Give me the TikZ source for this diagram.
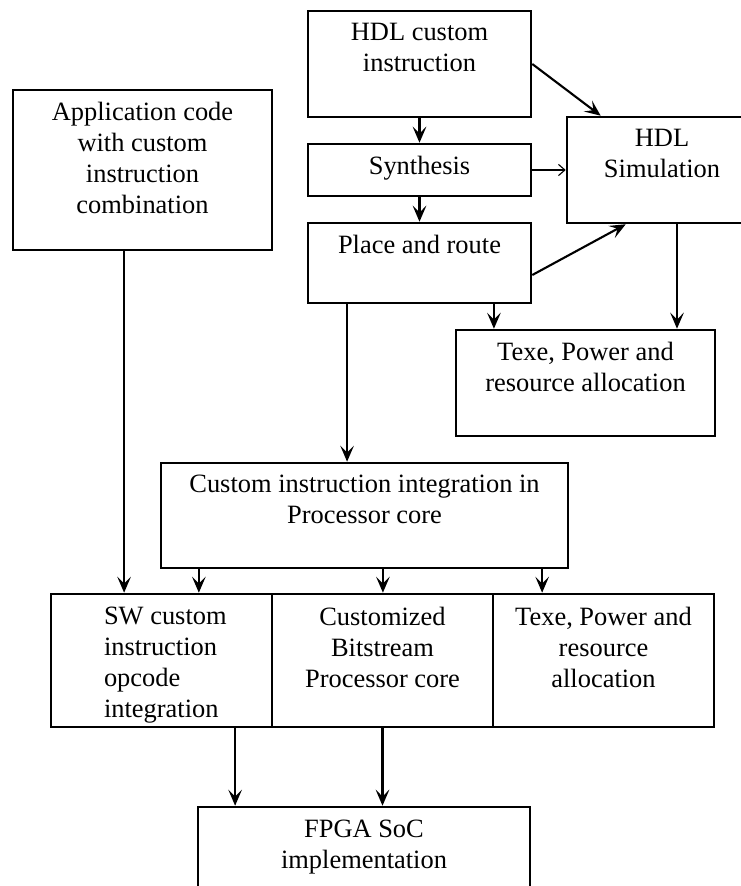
\documentclass[tikz,border=0pt]{standalone}
\usepackage{fontspec}
\setmainfont{Liberation Serif}
\usetikzlibrary{positioning,arrows.meta}

\tikzset{
  blk/.style={draw, line width=1.8pt, inner sep=0pt},
  txt/.style={align=center, inner sep=0pt, font=\fontsize{18.8}{22}\selectfont},
  arr/.style={line width=1.5pt, -{Stealth[length=4mm,width=3.4mm,inset=1.7mm]}},
  thinarr/.style={line width=0.8pt, -{Straight Barb[length=1.6mm,width=2.8mm]}}
}

\begin{document}
\begin{tikzpicture}[x=0.025cm,y=-0.025cm]%,>=latex]

\useasboundingbox (0,0) rectangle (741,886);
\clip (0,0) rectangle (741,886);

\node[blk, minimum width=5.575cm, minimum height=2.65cm] (hdl) at (419.5,64) {};
\node[blk, minimum width=6.475cm, minimum height=4cm] (app) at (142.5,170) {};
\node[blk, minimum width=5.575cm, minimum height=1.3cm] (synth) at (419.5,170) {};
\node[blk, minimum width=4.75cm, minimum height=2.65cm] (sim) at (662,170) {};
\node[blk, minimum width=5.575cm, minimum height=2cm] (pnr) at (419.5,263) {};
\node[blk, minimum width=6.475cm, minimum height=2.65cm] (texeA) at (585.5,383) {};
\node[blk, minimum width=10.175cm, minimum height=2.625cm] (cii) at (364.5,515.5) {};
\node[blk, minimum width=5.525cm, minimum height=3.325cm] (sw) at (161.5,660.5) {};
\node[blk, minimum width=5.525cm, minimum height=3.325cm] (cbp) at (382.5,660.5) {};
\node[blk, minimum width=5.525cm, minimum height=3.325cm] (texeB) at (603.5,660.5) {};
\node[blk, minimum width=8.3cm, minimum height=2.625cm] (fpga) at (364,859.5) {};

\node[txt, below=0.33cm of hdl.north] (hdlt) {HDL custom\\instruction};
\node[txt, below=0.33cm of app.north] (appt) {Application code\\with custom\\instruction\\combination};
\node[txt, below=0.33cm of synth.north] (syntht) {Synthesis};
\node[txt, below=0.33cm of sim.north] (simt) {HDL\\Simulation};
\node[txt, below=0.33cm of pnr.north] (pnrt) {Place and route};
\node[txt, below=0.33cm of texeA.north] (texeAt) {Texe, Power and\\resource allocation};
\node[txt, below=0.33cm of cii.north] (ciit) {Custom instruction integration in\\Processor core};
\node[txt, align=left, below right=0.36cm and 1.35cm of sw.north west] (swt) {SW custom\\instruction\\opcode\\integration};
\node[txt, below=0.36cm of cbp.north] (cbpt) {Customized\\Bitstream\\Processor core};
\node[txt, below=0.36cm of texeB.north] (texeBt) {Texe, Power and\\resource\\allocation};
\node[txt, below=0.36cm of fpga.north] (fpgat) {FPGA SoC\\implementation};

\draw[arr] (hdl) -- (synth);
\draw[arr] (synth) -- (pnr);
\draw[thinarr] (synth) -- (sim);
\draw[arr] (hdl.east) -- ([xshift=0.875cm]sim.north west);
\draw[arr] ([yshift=-0.3cm]pnr.east) -- ([xshift=1.5cm]sim.south west);

\coordinate (pa) at ([xshift=1.86cm]pnr.south);
\coordinate (pb) at ([xshift=0.375cm]sim.south);
\coordinate (pc) at ([xshift=-1.81cm]pnr.south);
\coordinate (pd) at ([xshift=-0.46cm]app.south);
\draw[arr] (pa) -- (pa |- texeA.north);
\draw[arr] (pb) -- (pb |- texeA.north);
\draw[arr] (pc) -- (pc |- cii.north);
\draw[arr] (pd) -- (pd |- sw.north);

\foreach \dx/\tgt in {-4.14/sw, 0.46/cbp, 4.44/texeB}{
  \coordinate (c\tgt) at ([xshift=\dx cm]cii.south);
  \draw[arr] (c\tgt) -- (c\tgt |- \tgt.north);
}

\coordinate (pe) at ([xshift=1.84cm]sw.south);
\draw[arr] (pe) -- (pe |- fpga.north);
\draw[arr] (cbp.south) -- (cbp.south |- fpga.north);

\end{tikzpicture}
\end{document}
